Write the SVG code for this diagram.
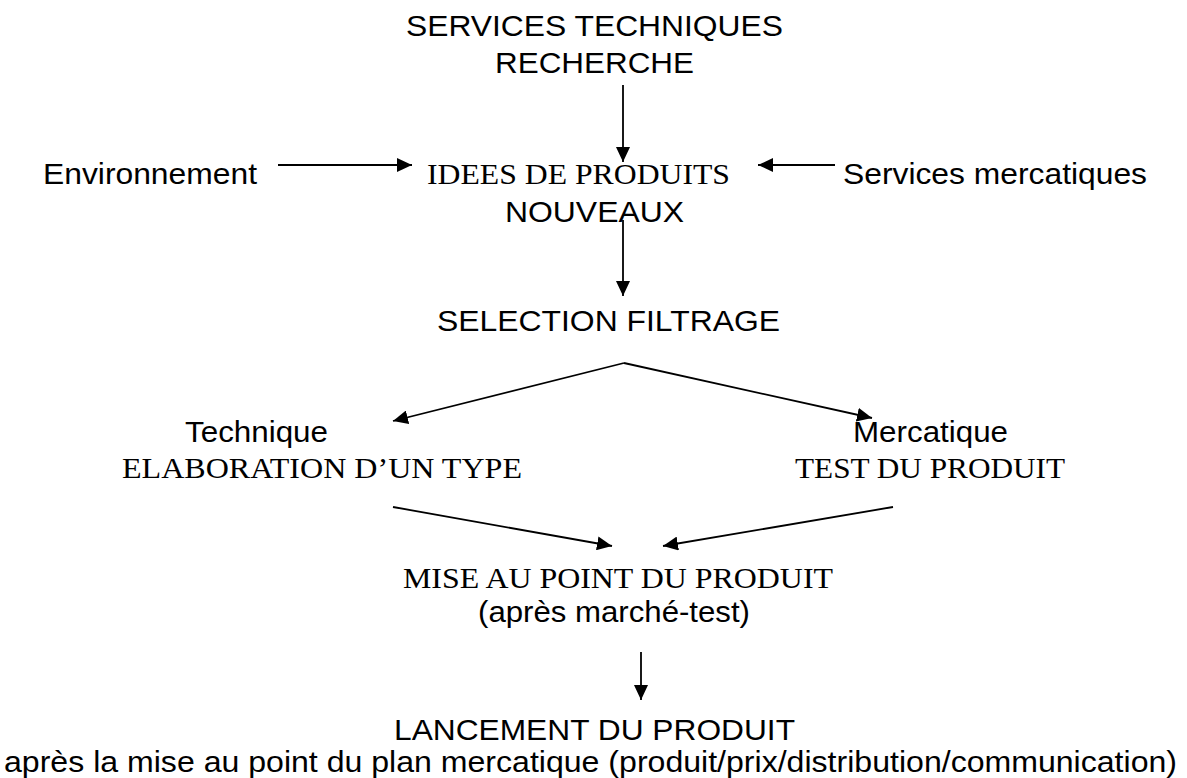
<svg xmlns="http://www.w3.org/2000/svg" width="1187" height="778" viewBox="0 0 1187 778">
<style>
.s{font-family:"Liberation Sans",Arial,sans-serif;font-size:30px;fill:#000}
.r{font-family:"Liberation Serif","Times New Roman",serif;font-size:30px;fill:#000}
.c{stroke:#000;stroke-width:1.8;fill:none}
</style>
<defs>
<marker id="ah" markerUnits="userSpaceOnUse" markerWidth="16" markerHeight="14" refX="15" refY="7" orient="auto">
<path d="M0,0 L15,7 L0,14 z" fill="#000"/>
</marker>
</defs>
<rect width="1187" height="778" fill="#fff"/>
<g id="connectors" class="c" marker-end="url(#ah)">
<line x1="623" y1="85" x2="623" y2="162"/>
<line x1="623" y1="220" x2="623" y2="296"/>
<line x1="278" y1="165" x2="412" y2="165"/>
<line x1="835" y1="165" x2="758" y2="165"/>
<line x1="624" y1="363" x2="393" y2="421"/>
<line x1="624" y1="363" x2="872" y2="418"/>
<line x1="393" y1="507" x2="612" y2="546"/>
<line x1="893" y1="507" x2="663" y2="546"/>
<line x1="641" y1="652" x2="641" y2="700"/>
</g>
<g id="services-techniques">
<text class="s" x="406" y="36" textLength="377" lengthAdjust="spacingAndGlyphs">SERVICES TECHNIQUES</text>
<text class="s" x="495" y="73" textLength="199" lengthAdjust="spacingAndGlyphs">RECHERCHE</text>
</g>
<g id="environnement">
<text class="s" x="43" y="184" textLength="214" lengthAdjust="spacingAndGlyphs">Environnement</text>
</g>
<g id="services-mercatiques">
<text class="s" x="843" y="184" textLength="304" lengthAdjust="spacingAndGlyphs">Services mercatiques</text>
</g>
<g id="idees">
<text class="r" x="427" y="184" textLength="303" lengthAdjust="spacingAndGlyphs">IDEES DE PRODUITS</text>
<text class="s" x="505" y="222" textLength="179" lengthAdjust="spacingAndGlyphs">NOUVEAUX</text>
</g>
<g id="selection">
<text class="s" x="437" y="331" textLength="343" lengthAdjust="spacingAndGlyphs">SELECTION FILTRAGE</text>
</g>
<g id="technique">
<text class="s" x="185" y="442" textLength="143" lengthAdjust="spacingAndGlyphs">Technique</text>
<text class="r" x="122" y="478" textLength="400" lengthAdjust="spacingAndGlyphs">ELABORATION D’UN TYPE</text>
</g>
<g id="mercatique">
<text class="s" x="853" y="442" textLength="155" lengthAdjust="spacingAndGlyphs">Mercatique</text>
<text class="r" x="795" y="478" textLength="270" lengthAdjust="spacingAndGlyphs">TEST DU PRODUIT</text>
</g>
<g id="mise-au-point">
<text class="r" x="403" y="588" textLength="430" lengthAdjust="spacingAndGlyphs">MISE AU POINT DU PRODUIT</text>
<text class="s" x="478" y="622" textLength="272" lengthAdjust="spacingAndGlyphs">(après marché-test)</text>
</g>
<g id="lancement">
<text class="s" x="394" y="740" textLength="401" lengthAdjust="spacingAndGlyphs">LANCEMENT DU PRODUIT</text>
<text class="s" x="4" y="772" textLength="1173" lengthAdjust="spacingAndGlyphs">après la mise au point du plan mercatique (produit/prix/distribution/communication)</text>
</g>
</svg>
